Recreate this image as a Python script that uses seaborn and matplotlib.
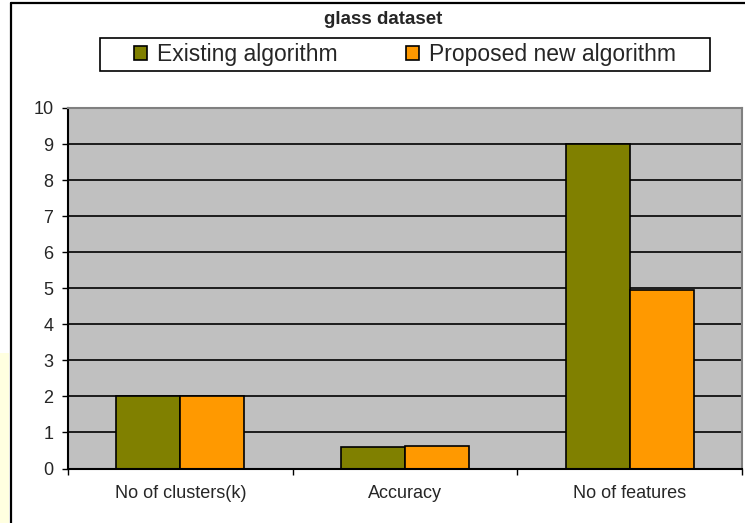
import matplotlib
matplotlib.use("Agg")
import matplotlib.pyplot as plt
import seaborn as sns
import pandas as pd
from matplotlib.patches import Rectangle
from matplotlib.lines import Line2D

categories = ["No of clusters(k)", "Accuracy", "No of features"]
series_names = ["Existing algorithm", "Proposed new algorithm"]
existing = [2, 0.59, 9]
proposed = [2, 0.63, 4.96]
y_ticks = list(range(0, 11))
title = "glass dataset"
colors = ["#808000", "#FF9900"]

df = pd.DataFrame({
    "metric": categories * 2,
    "algo": [series_names[0]] * 3 + [series_names[1]] * 3,
    "value": existing + proposed,
})

sns.set_style("white")
plt.rcParams["font.family"] = ["Liberation Sans", "DejaVu Sans"]

W, H = 745, 523
fig = plt.figure(figsize=(W / 100, H / 100), dpi=100)
ax = fig.add_axes([68 / W, 1 - 468.5 / H, (742 - 68) / W, (468.5 - 108) / H])

sns.barplot(data=df, x="metric", y="value", hue="algo", palette=colors,
            width=0.57, gap=0, edgecolor="black", linewidth=1.2,
            saturation=1, ax=ax, order=categories, hue_order=series_names)

ax.set_facecolor("#C0C0C0")
ax.set_ylim(0, 10)
ax.set_xlim(-0.5, 2.5)
ax.set_yticks(y_ticks)
ax.set_axisbelow(True)
ax.yaxis.grid(True, color="black", linewidth=1.2)
ax.xaxis.grid(False)
ax.set_xlabel("")
ax.set_ylabel("")

ax.tick_params(axis="y", which="major", direction="out", length=4.5, width=1,
               color="black", labelsize=13, pad=6, left=True)
ax.tick_params(axis="x", which="major", length=0, labelsize=13, pad=12)
ax.set_xticks([-0.5, 0.5, 1.5, 2.5], minor=True)
ax.tick_params(axis="x", which="minor", direction="out", length=4, width=1,
               color="black", bottom=True)

for s in ["left", "bottom"]:
    ax.spines[s].set_color("black")
    ax.spines[s].set_linewidth(1.5)
for s in ["top", "right"]:
    ax.spines[s].set_color("#808080")
    ax.spines[s].set_linewidth(1.5)

handles, labels = ax.get_legend_handles_labels()
ax.get_legend().remove()
leg = fig.legend(handles, labels, loc="center",
                 bbox_to_anchor=(405 / W, 1 - 54.5 / H), ncol=2, frameon=False,
                 fontsize=16.5, handlelength=0.55, handleheight=0.55,
                 handletextpad=0.45, columnspacing=3.0, borderpad=0)
fig.add_artist(Rectangle((100 / W, 1 - 71 / H), 610 / W, 33 / H,
                         transform=fig.transFigure, fill=False,
                         edgecolor="black", linewidth=1.2))

fig.text(383 / W, 1 - 20 / H, title, ha="center", va="center",
         fontsize=13.5, fontweight="bold")

# outer chart border
fig.add_artist(Line2D([10.5 / W, 10.5 / W], [0, 1 - 3 / H],
                      transform=fig.transFigure, color="black", linewidth=1.6))
fig.add_artist(Line2D([10.5 / W, 1], [1 - 3 / H, 1 - 3 / H],
                      transform=fig.transFigure, color="black", linewidth=1.6))
fig.add_artist(Rectangle((0, 0), 9 / W, (H - 353) / H, transform=fig.transFigure,
                         facecolor="#FFFFE0", edgecolor="none"))

fig.savefig("out.png", dpi=100)
